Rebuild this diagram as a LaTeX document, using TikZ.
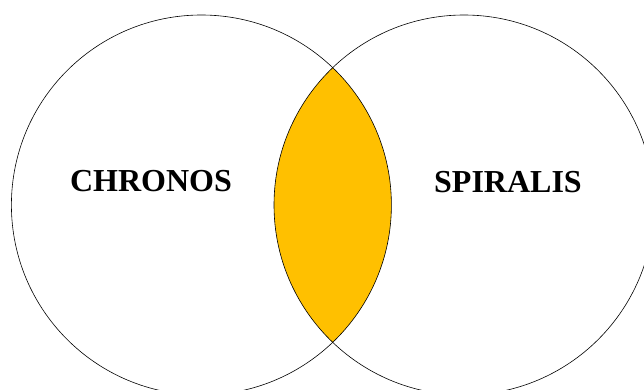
\documentclass[tikz,border=0pt]{standalone}
\usepackage{fontspec}
\setmainfont{Liberation Serif}
\usepackage{tikz}
\definecolor{lensgold}{HTML}{FFC000}

\begin{document}
\begin{tikzpicture}[
  x=1pt, y=-1pt,
  every node/.style={font=\fontsize{32}{38}\selectfont\bfseries, align=center},
  setring/.style={draw=black, line width=0.6pt}
]
\useasboundingbox (0,0) rectangle (644,390);
% overlap of the two sets
\begin{scope}
  \clip (201.4,205) circle [radius=190pt];
  \fill[lensgold] (464,205) circle [radius=190pt];
\end{scope}
\draw[setring] (201.4,205) circle [radius=190pt];
\draw[setring] (464,205) circle [radius=190pt];
\node (chronos) at (151,181) {CHRONOS};
\node (spiralis) at (508,182) {SPIRALIS};
\end{tikzpicture}
\end{document}
